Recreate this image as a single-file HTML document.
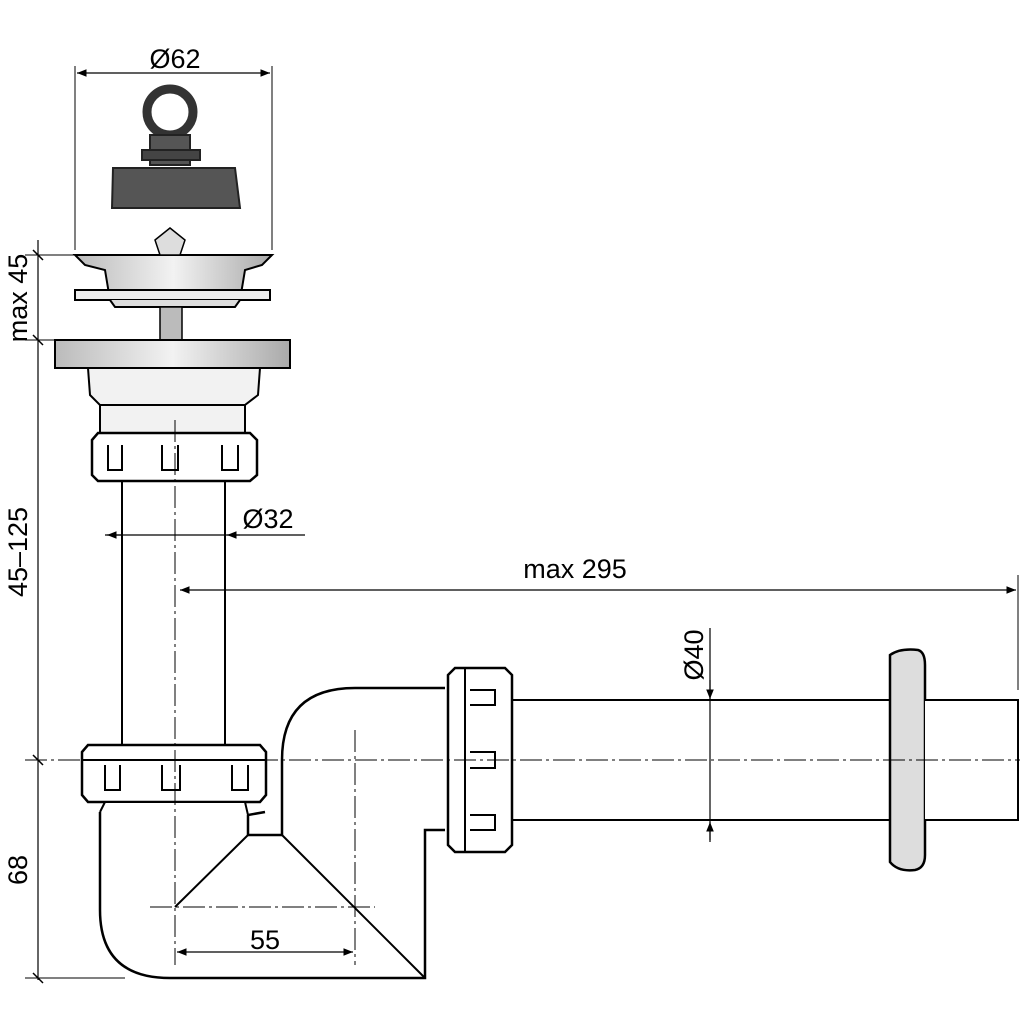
<!DOCTYPE html>
<html><head><meta charset="utf-8"><style>html,body{margin:0;padding:0;background:#fff}svg{display:block}</style></head>
<body>
<svg width="1024" height="1024" viewBox="0 0 1024 1024" xmlns="http://www.w3.org/2000/svg" font-family="Liberation Sans, sans-serif">
<defs>
<marker id="a" viewBox="0 0 10 10" refX="10" refY="5" markerWidth="8" markerHeight="8" orient="auto-start-reverse"><path d="M0,1 L10,5 L0,9 z" fill="#000"/></marker>
<linearGradient id="m" x1="0" x2="1"><stop offset="0" stop-color="#bbb"/><stop offset=".5" stop-color="#f2f2f2"/><stop offset="1" stop-color="#aaa"/></linearGradient>
</defs>
<g fill="none" stroke="#000" stroke-width="2">
<!-- stopper -->
<path d="M113,168 L235,168 L240,208 L112,208 Z" fill="#555" stroke="#222"/>
<circle cx="170" cy="112" r="23" stroke="#333" stroke-width="9"/>
<rect x="150" y="135" width="40" height="30" fill="#555" stroke="#222"/>
<rect x="142" y="150" width="58" height="10" fill="#444" stroke="#222"/>
<!-- strainer -->
<path d="M75,255 L272,255 L262,265 L245,270 L240,300 L110,300 L105,270 L85,265 Z" fill="url(#m)"/>
<rect x="75" y="290" width="195" height="10" fill="#eee"/>
<path d="M110,300 L115,307 L235,307 L240,300" fill="#ddd"/>
<path d="M155,240 L170,228 L185,240 L180,255 L160,255 Z" fill="#ddd" stroke-width="1.5"/>
<rect x="160" y="307" width="22" height="33" fill="#bbb" stroke-width="1.5"/>
<!-- top body -->
<rect x="55" y="340" width="235" height="28" fill="url(#m)"/>
<path d="M88,368 L260,368 L258,395 L245,405 L245,433 L100,433 L100,405 L90,395 Z" fill="#f2f2f2"/>
<line x1="100" y1="405" x2="245" y2="405"/>
<!-- top nut -->
<path d="M92,440 L98,433 L250,433 L257,440 L257,475 L250,481 L98,481 L92,475 Z" fill="#fff" stroke-width="2.5"/>
<path d="M108,445 L108,470 L122,470 L122,445 M162,445 L162,470 L178,470 L178,445 M222,445 L222,470 L238,470 L238,445" stroke-width="2"/>
<!-- Ø32 pipe -->
<line x1="122" y1="481" x2="122" y2="745"/>
<line x1="225" y1="481" x2="225" y2="745"/>
<!-- bottle body -->
<path d="M100,812 L100,910 Q100,978 170,978 L425,978 L425,830 L445,830 M265,812 L248,815 L248,835 L282,835 L282,760 Q282,688 355,688 L445,688" fill="#fff" stroke-width="2.5"/>
<path d="M175,907 L248,835 M282,835 L425,978" stroke-width="2"/>
<!-- lower nut -->
<path d="M82,752 L88,745 L260,745 L266,752 L266,795 L260,802 L88,802 L82,795 Z" fill="#fff" stroke-width="2.5"/>
<line x1="82" y1="760" x2="266" y2="760"/>
<path d="M100,812 L105,802 L245,802 L248,815" fill="#fff"/>
<path d="M105,765 L105,790 L120,790 L120,765 M162,765 L162,790 L180,790 L180,765 M232,765 L232,790 L248,790 L248,765" stroke-width="2"/>
<!-- horizontal nut -->
<path d="M455,668 L505,668 L512,675 L512,845 L505,852 L455,852 L448,845 L448,675 Z" fill="#fff" stroke-width="2.5"/>
<line x1="465" y1="668" x2="465" y2="852"/>
<path d="M470,690 L495,690 L495,705 L470,705 M470,752 L495,752 L495,768 L470,768 M470,815 L495,815 L495,830 L470,830" stroke-width="2"/>
<!-- horizontal pipe -->
<line x1="512" y1="700" x2="890" y2="700"/>
<line x1="512" y1="820" x2="890" y2="820"/>
<!-- rosette -->
<path d="M890,655 Q900,648 918,650 Q925,652 925,665 L925,855 Q925,868 915,870 Q898,872 890,862 Z" fill="#ddd" stroke-width="2.5"/>
<path d="M925,700 L1018,700 L1018,820 L925,820" fill="#fff"/>

<!-- dimension lines -->
<line x1="75" y1="66" x2="75" y2="250" stroke-width="1"/>
<line x1="272" y1="66" x2="272" y2="250" stroke-width="1"/>
<line x1="77" y1="73" x2="270" y2="73" stroke-width="1.2" marker-start="url(#a)" marker-end="url(#a)"/>
<line x1="38" y1="240" x2="38" y2="980" stroke-width="1.2"/>
<path d="M33,250 L43,260 M33,335 L43,345 M33,755 L43,765 M33,973 L43,983" stroke-width="1.5"/>
<line x1="25" y1="255" x2="75" y2="255" stroke-width="1"/>
<line x1="25" y1="340" x2="60" y2="340" stroke-width="1"/>
<line x1="25" y1="978" x2="125" y2="978" stroke-width="1"/>
<line x1="105" y1="535" x2="305" y2="535" stroke-width="1.2"/>
<line x1="107" y1="535" x2="122" y2="535" stroke-width="1.2" marker-start="url(#a)"/>
<line x1="240" y1="535" x2="227" y2="535" stroke-width="1.2" marker-end="url(#a)"/>
<line x1="180" y1="590" x2="1016" y2="590" stroke-width="1.2" marker-start="url(#a)" marker-end="url(#a)"/>
<line x1="1018" y1="575" x2="1018" y2="690" stroke-width="1"/>
<line x1="710" y1="628" x2="710" y2="842" stroke-width="1.2"/>
<line x1="710" y1="680" x2="710" y2="699" stroke-width="1.2" marker-end="url(#a)"/>
<line x1="710" y1="840" x2="710" y2="822" stroke-width="1.2" marker-end="url(#a)"/>
<line x1="177" y1="952" x2="353" y2="952" stroke-width="1.2" marker-start="url(#a)" marker-end="url(#a)"/>
<!-- centerlines -->
<g stroke-width="1" stroke-dasharray="22,4,3,4">
<line x1="25" y1="760" x2="1020" y2="760"/>
<line x1="175" y1="420" x2="175" y2="965"/>
<line x1="355" y1="730" x2="355" y2="965"/>
<line x1="150" y1="907" x2="375" y2="907"/>
</g>
</g>
<g font-size="27" fill="#000">
<text x="175" y="68" text-anchor="middle">Ø62</text>
<text x="268" y="528" text-anchor="middle">Ø32</text>
<text x="575" y="578" text-anchor="middle">max 295</text>
<text x="265" y="949" text-anchor="middle">55</text>
<text transform="translate(27,298) rotate(-90)" text-anchor="middle">max 45</text>
<text transform="translate(27,552) rotate(-90)" text-anchor="middle">45–125</text>
<text transform="translate(27,870) rotate(-90)" text-anchor="middle">68</text>
<text transform="translate(703,655) rotate(-90)" text-anchor="middle">Ø40</text>
</g>
</svg>
</body></html>
